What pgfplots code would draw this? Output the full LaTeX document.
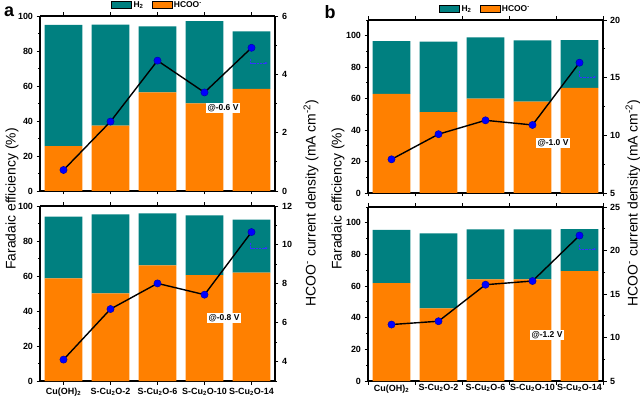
\documentclass[border=0pt]{standalone}
\usepackage{pgfplots}
\pgfplotsset{compat=1.18}
\usetikzlibrary{arrows.meta}
\usepackage{fontspec}
\setmainfont{Liberation Sans}
\definecolor{myteal}{RGB}{0,128,128}
\definecolor{myorange}{RGB}{255,128,0}
\pgfplotsset{
  base/.style={scale only axis, width=235bp, xmin=-0.5, xmax=4.5,
    tick align=outside, major tick length=3.5bp, minor tick length=2bp,
    axis line style={line width=1.1bp},
    every tick/.style={black, line width=0.9bp},
    tick label style={font=\bfseries\fontsize{9}{11}\selectfont},
    /pgf/number format/assume math mode=true, clip=false},
  fe/.style={base, axis y line*=left, ybar stacked, bar width=0.8, ymin=0,
    ytick={0,20,...,100}, minor ytick={10,30,...,90},
    xtick={0,...,4}, xticklabels={}},
  feb/.style={base, axis y line*=left, ybar stacked, bar width=0.8, ymin=0, ymax=110,
    ytick={0,20,...,100}, minor ytick={10,30,...,110},
    xtick={-0.5,0.5,...,4.5}, xticklabels={}},
  cd/.style={base, axis y line*=right, axis x line=none},
  line/.style={black, line width=1.4bp, mark=*, mark size=3.6bp,
    mark options={fill=blue, draw=blue!70!black, line width=0.5bp}},
  leg/.style={legend style={at={(0.5,1)}, anchor=south, yshift=3bp, draw=none, fill=none,
    legend columns=2, font=\bfseries\fontsize{8.5}{10}\selectfont,
    /tikz/every even column/.append style={column sep=6bp}},
    legend image code/.code={\fill[##1] (0bp,-3.5bp) rectangle (20bp,3.5bp);}},
}
\begin{document}
\begin{tikzpicture}
\path[use as bounding box] (0,0) rectangle (640bp,401bp);
% ---------- panel a top ----------
\begin{axis}[fe, at={(40bp,210bp)}, anchor=south west, height=175bp, ymax=100]
\addplot[fill=myorange, draw=none] coordinates {(0,25.7) (1,37.3) (2,56.4) (3,50.1) (4,58.3)};
\addplot[fill=myteal, draw=none] coordinates {(0,69.2) (1,57.7) (2,37.7) (3,47.0) (4,32.9)};
\end{axis}
\begin{axis}[cd, leg, at={(40bp,210bp)}, anchor=south west, height=175bp, ymin=0, ymax=6,
  ytick={0,2,4,6}, minor ytick={1,3,5}]
\addlegendimage{fill=myteal}
\addlegendimage{fill=myorange}
\addplot[line, forget plot] coordinates {(0,0.72) (1,2.38) (2,4.47) (3,3.38) (4,4.91)};
\legend{H\textsubscript{2}, HCOO\textsuperscript{-}}
\end{axis}
% ---------- panel a bottom ----------
\begin{axis}[fe, at={(40bp,20bp)}, anchor=south west, height=175bp, ymax=100,
  xticklabels={Cu(OH)\textsubscript{2}, S-Cu\textsubscript{2}O-2, S-Cu\textsubscript{2}O-6, S-Cu\textsubscript{2}O-10, S-Cu\textsubscript{2}O-14}]
\addplot[fill=myorange, draw=none] coordinates {(0,58.7) (1,50.1) (2,66.1) (3,60.5) (4,61.9)};
\addplot[fill=myteal, draw=none] coordinates {(0,35.2) (1,45.1) (2,29.7) (3,34.2) (4,30.3)};
\end{axis}
\begin{axis}[cd, at={(40bp,20bp)}, anchor=south west, height=175bp, ymin=3, ymax=12,
  ytick={4,6,8,10,12}, minor ytick={3,5,7,9,11}]
\addplot[line] coordinates {(0,4.10) (1,6.70) (2,8.02) (3,7.44) (4,10.66)};
\end{axis}
% ---------- panel b top ----------
\begin{axis}[feb, at={(368bp,208bp)}, anchor=south west, height=173bp]
\addplot[fill=myorange, draw=none] coordinates {(0,63.1) (1,51.5) (2,60.0) (3,58.1) (4,66.9)};
\addplot[fill=myteal, draw=none] coordinates {(0,33.5) (1,44.7) (2,38.9) (3,38.9) (4,30.3)};
\end{axis}
\begin{axis}[cd, leg, at={(368bp,208bp)}, anchor=south west, height=173bp, ymin=5, ymax=20,
  ytick={5,10,15,20}, minor ytick={7.5,12.5,17.5}]
\addlegendimage{fill=myteal}
\addlegendimage{fill=myorange}
\addplot[line, forget plot] coordinates {(0,7.92) (1,10.1) (2,11.3) (3,10.9) (4,16.3)};
\legend{H\textsubscript{2}, HCOO\textsuperscript{-}}
\end{axis}
% ---------- panel b bottom ----------
\begin{axis}[feb, at={(368bp,20bp)}, anchor=south west, height=174bp,
  extra x ticks={0,1,2,3,4},
  extra x tick labels={Cu(OH)\textsubscript{2}, S-Cu\textsubscript{2}O-2, S-Cu\textsubscript{2}O-6, S-Cu\textsubscript{2}O-10, S-Cu\textsubscript{2}O-14},
  extra x tick style={major tick length=0pt}]
\addplot[fill=myorange, draw=none] coordinates {(0,61.9) (1,45.9) (2,64.2) (3,64.2) (4,69.5)};
\addplot[fill=myteal, draw=none] coordinates {(0,33.7) (1,47.4) (2,31.6) (3,31.6) (4,26.5)};
\end{axis}
\begin{axis}[cd, at={(368bp,20bp)}, anchor=south west, height=174bp, ymin=5, ymax=25,
  ytick={5,10,15,20,25}, minor ytick={7.5,12.5,17.5,22.5}]
\addplot[line] coordinates {(0,11.49) (1,11.87) (2,16.07) (3,16.49) (4,21.72)};
\end{axis}
% ---------- labels ----------
\node[rotate=90, font=\fontsize{14}{16}\selectfont] at (12bp,202bp) {Faradaic efficiency (\%)};
\node[rotate=90, font=\fontsize{14}{16}\selectfont] at (311bp,198bp) {HCOO\textsuperscript{-} current density (mA cm\textsuperscript{-2})};
\node[rotate=90, font=\fontsize{14}{16}\selectfont] at (338bp,202bp) {Faradaic efficiency (\%)};
\node[rotate=90, font=\fontsize{14}{16}\selectfont] at (633bp,198bp) {HCOO\textsuperscript{-} current density (mA cm\textsuperscript{-2})};
\node[font=\bfseries\fontsize{18}{20}\selectfont] at (9bp,389bp) {a};
\node[font=\bfseries\fontsize{18}{20}\selectfont] at (330bp,389bp) {b};
% annotations
\foreach \x/\y/\t in {223/293/-0.6, 224/83/-0.8, 553/258/-1.0, 547/66/-1.2}{
  \node[fill=white, inner sep=1.5bp, font=\bfseries\fontsize{8.5}{10}\selectfont] at (\x bp,\y bp) {@\t\ V};
}
% right-axis indicators
\foreach \x/\xe/\ya/\yb in {250.7/267.7/342/338, 250.7/267.7/158/153, 579.3/596.3/330/324, 579.3/596.3/156/152}{
  \draw[blue!80!white, line width=0.6bp, dash pattern=on 2.5bp off 0.8bp, -{Stealth[length=3bp]}]
    (\x bp,\ya bp) -- (\x bp,\yb bp) -- (\xe bp,\yb bp);
}
\end{tikzpicture}
\end{document}
